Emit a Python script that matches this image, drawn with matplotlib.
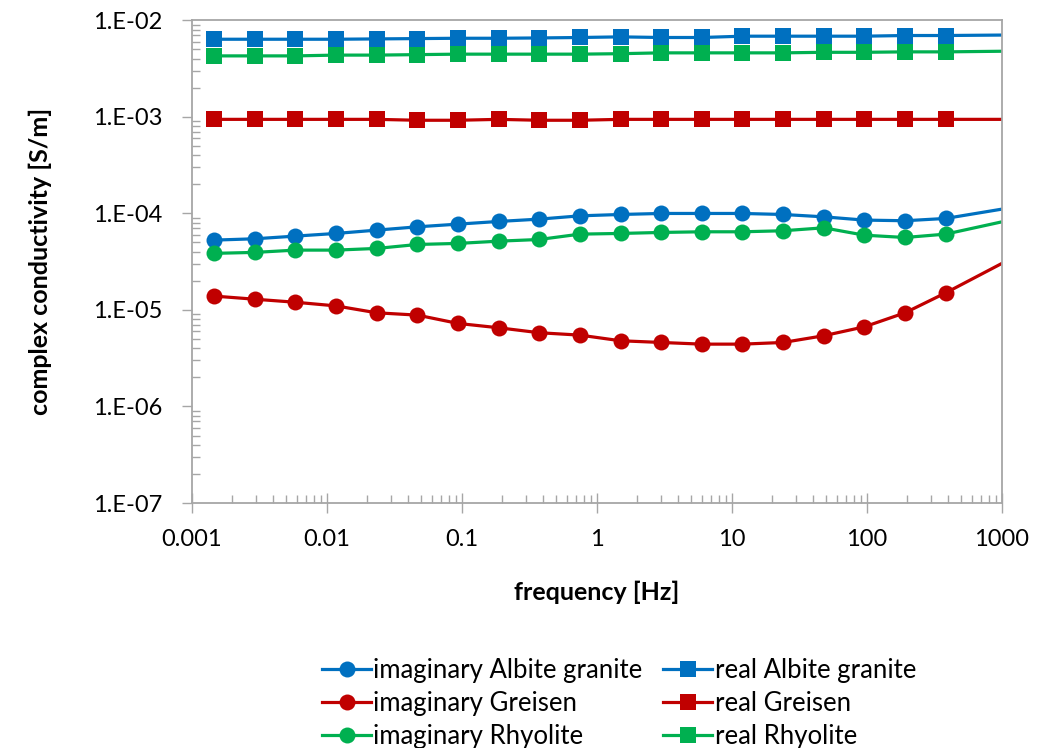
import matplotlib
matplotlib.use("Agg")
import matplotlib.pyplot as plt
import matplotlib.ticker as mticker
import numpy as np

plt.rcParams['font.family'] = ['Lato', 'DejaVu Sans']

# frequencies [Hz]; last one lies beyond the axis limit (clipped like the original)
freq = [0.00146, 0.00293, 0.00586, 0.0117, 0.0234, 0.0469, 0.0938, 0.1875, 0.375,
        0.75, 1.5, 3, 6, 12, 24, 48, 96, 192, 384, 1536]

imag_albite = [5.28e-5, 5.45e-5, 5.81e-5, 6.19e-5, 6.70e-5, 7.25e-5, 7.73e-5, 8.24e-5, 8.71e-5,
               9.42e-5, 9.73e-5, 9.97e-5, 9.97e-5, 9.97e-5, 9.73e-5, 9.2e-5, 8.51e-5, 8.38e-5,
               8.85e-5, 1.22e-4]
imag_greisen = [1.39e-5, 1.29e-5, 1.20e-5, 1.10e-5, 9.33e-6, 8.83e-6, 7.24e-6, 6.53e-6, 5.80e-6,
                5.48e-6, 4.79e-6, 4.60e-6, 4.42e-6, 4.42e-6, 4.60e-6, 5.40e-6, 6.68e-6, 9.33e-6,
                1.50e-5, 4.14e-5]
imag_rhyolite = [3.85e-5, 3.94e-5, 4.16e-5, 4.16e-5, 4.33e-5, 4.76e-5, 4.88e-5, 5.15e-5, 5.36e-5,
                 6.09e-5, 6.19e-5, 6.34e-5, 6.44e-5, 6.44e-5, 6.60e-5, 7.08e-5, 5.94e-5, 5.62e-5,
                 6.09e-5, 9.3e-5]
real_albite = [6.35e-3, 6.35e-3, 6.35e-3, 6.35e-3, 6.40e-3, 6.45e-3, 6.50e-3, 6.50e-3, 6.55e-3,
               6.62e-3, 6.72e-3, 6.62e-3, 6.62e-3, 6.83e-3, 6.83e-3, 6.83e-3, 6.83e-3, 6.94e-3,
               6.94e-3, 7.05e-3]
real_greisen = [9.4e-4, 9.4e-4, 9.4e-4, 9.4e-4, 9.4e-4, 9.2e-4, 9.2e-4, 9.4e-4, 9.2e-4,
                9.2e-4, 9.4e-4, 9.4e-4, 9.4e-4, 9.4e-4, 9.4e-4, 9.4e-4, 9.4e-4, 9.4e-4,
                9.4e-4, 9.4e-4]
real_rhyolite = [4.27e-3, 4.27e-3, 4.27e-3, 4.35e-3, 4.35e-3, 4.40e-3, 4.45e-3, 4.45e-3, 4.45e-3,
                 4.45e-3, 4.50e-3, 4.59e-3, 4.59e-3, 4.59e-3, 4.59e-3, 4.65e-3, 4.65e-3, 4.70e-3,
                 4.70e-3, 4.80e-3]

blue = '#0070C0'
red = '#C00000'
green = '#00B050'
axis_grey = '#A6A6A6'

fig = plt.figure(figsize=(10.37, 7.48), dpi=100)
ax = fig.add_axes([0.185, 0.3275, 0.781, 0.6455])

series = [
    (imag_albite, blue, 'o', 'imaginary Albite granite'),
    (imag_greisen, red, 'o', 'imaginary Greisen'),
    (imag_rhyolite, green, 'o', 'imaginary Rhyolite'),
    (real_albite, blue, 's', 'real Albite granite'),
    (real_greisen, red, 's', 'real Greisen'),
    (real_rhyolite, green, 's', 'real Rhyolite'),
]
for vals, col, mk, lab in series:
    ms = 11.5 if mk == 'o' else 11
    ax.plot(freq, vals, color=col, lw=2.3, marker=mk, markersize=ms,
            markeredgewidth=0, label=lab)

ax.set_xscale('log')
ax.set_yscale('log')
ax.set_xlim(0.001, 1000)
ax.set_ylim(1e-7, 1e-2)

ax.xaxis.set_major_locator(mticker.LogLocator(base=10, numticks=10))
ax.xaxis.set_major_formatter(mticker.FuncFormatter(lambda v, p: '{:g}'.format(v)))
ax.yaxis.set_major_formatter(mticker.FuncFormatter(lambda v, p: '1.E%+03d' % int(round(np.log10(v)))))
ax.xaxis.set_minor_locator(mticker.LogLocator(base=10, subs=np.arange(2, 10), numticks=100))
ax.yaxis.set_minor_locator(mticker.LogLocator(base=10, subs=np.arange(2, 10), numticks=100))
ax.xaxis.set_minor_formatter(mticker.NullFormatter())
ax.yaxis.set_minor_formatter(mticker.NullFormatter())

for s in ax.spines.values():
    s.set_color(axis_grey)
    s.set_linewidth(1.3)
ax.tick_params(which='minor', direction='in', length=6, width=1, color=axis_grey)
ax.tick_params(axis='x', which='major', direction='inout', length=14, width=1, color=axis_grey,
               labelsize=17, pad=12)
ax.tick_params(axis='y', which='major', direction='out', length=7, width=1, color=axis_grey,
               labelsize=17, pad=14)

ax.set_xlabel('frequency [Hz]', fontsize=18, fontweight='bold', labelpad=22)
ax.set_ylabel('complex conductivity [S/m]', fontsize=18, fontweight='bold', labelpad=30)

ax.legend(ncol=2, loc='upper center', bbox_to_anchor=(0.597, 0.134), bbox_transform=fig.transFigure,
          frameon=False, fontsize=18.5, handlelength=1.9, handletextpad=0.1,
          columnspacing=0.8, labelspacing=0.32, borderaxespad=0)

fig.savefig('out.png', dpi=100)
